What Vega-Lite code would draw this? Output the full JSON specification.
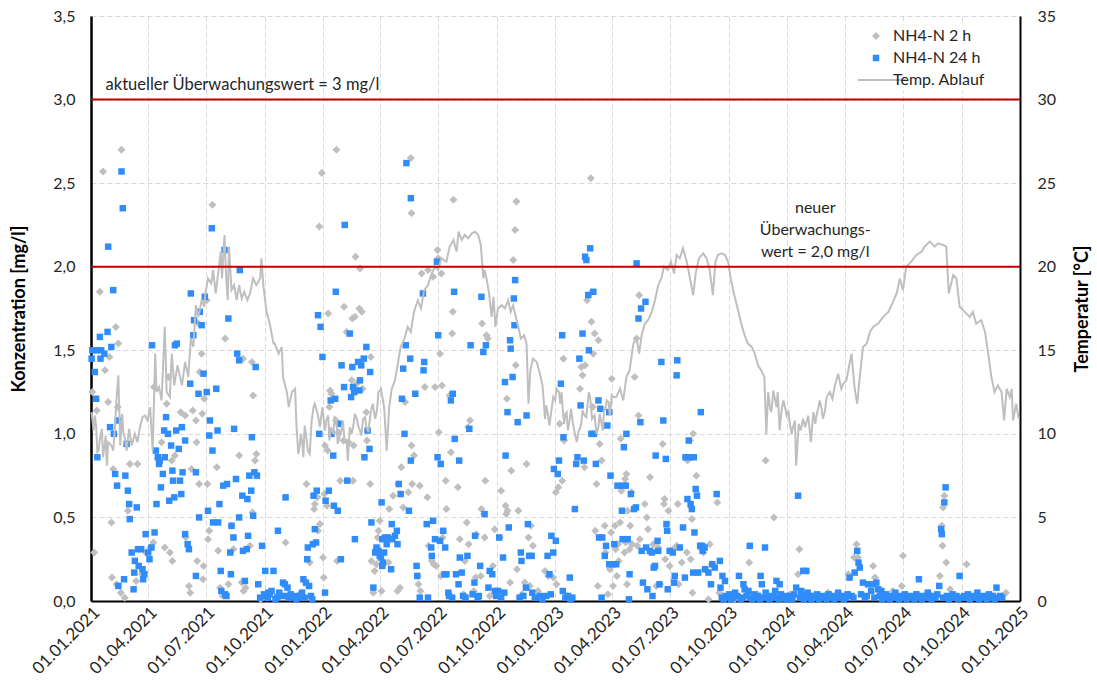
{
"$schema": "https://vega.github.io/schema/vega-lite/v6.json",
"width": 929, "height": 585,
"autosize": {"type": "none"},
"padding": {"left": 91, "top": 16, "right": 77, "bottom": 88},
"background": "white",
"config": {"font": "Lato", "view": {"stroke": null}},
"datasets": {
"g": [
{"d":"2021-01-03","v":1.25},{"d":"2021-01-06","v":0.29},{"d":"2021-01-10","v":1.14},{"d":"2021-01-15","v":1.85},{"d":"2021-01-20","v":2.57},{"d":"2021-01-23","v":1.38},{"d":"2021-01-28","v":1.19},{"d":"2021-01-30","v":1.46},{"d":"2021-02-02","v":0.47},{"d":"2021-02-03","v":0.14},{"d":"2021-02-05","v":0.79},{"d":"2021-02-09","v":1.64},{"d":"2021-02-10","v":0.10},{"d":"2021-02-12","v":1.16},{"d":"2021-02-13","v":1.54},{"d":"2021-02-17","v":0.05},{"d":"2021-02-18","v":2.70},{"d":"2021-02-23","v":0.02},{"d":"2021-02-28","v":0.54},{"d":"2021-03-03","v":0.82},{"d":"2021-03-13","v":0.12},{"d":"2021-03-15","v":0.82},{"d":"2021-03-22","v":0.16},{"d":"2021-03-28","v":0.29},{"d":"2021-04-04","v":0.32},{"d":"2021-04-09","v":0.35},{"d":"2021-04-10","v":1.28},{"d":"2021-04-22","v":0.95},{"d":"2021-04-27","v":0.32},{"d":"2021-04-30","v":1.18},{"d":"2021-05-03","v":1.34},{"d":"2021-05-05","v":0.29},{"d":"2021-05-08","v":0.84},{"d":"2021-05-09","v":0.24},{"d":"2021-05-13","v":0.87},{"d":"2021-05-22","v":1.13},{"d":"2021-05-29","v":1.11},{"d":"2021-05-30","v":0.38},{"d":"2021-06-04","v":0.09},{"d":"2021-06-06","v":0.05},{"d":"2021-06-08","v":0.79},{"d":"2021-06-10","v":1.14},{"d":"2021-06-15","v":1.08},{"d":"2021-06-16","v":0.95},{"d":"2021-06-17","v":0.24},{"d":"2021-06-20","v":0.70},{"d":"2021-06-19","v":1.66},{"d":"2021-06-21","v":1.37},{"d":"2021-06-24","v":1.48},{"d":"2021-06-25","v":1.12},{"d":"2021-06-26","v":0.13},{"d":"2021-06-27","v":0.21},{"d":"2021-06-28","v":1.21},{"d":"2021-07-02","v":1.80},{"d":"2021-07-03","v":0.70},{"d":"2021-07-04","v":0.37},{"d":"2021-07-06","v":0.42},{"d":"2021-07-11","v":2.37},{"d":"2021-07-18","v":0.80},{"d":"2021-07-20","v":0.30},{"d":"2021-07-23","v":0.08},{"d":"2021-07-27","v":0.03},{"d":"2021-07-31","v":1.57},{"d":"2021-08-05","v":0.10},{"d":"2021-08-10","v":0.45},{"d":"2021-08-13","v":0.31},{"d":"2021-08-22","v":0.87},{"d":"2021-08-26","v":0.11},{"d":"2021-08-28","v":1.45},{"d":"2021-08-29","v":0.06},{"d":"2021-09-01","v":0.08},{"d":"2021-09-08","v":0.33},{"d":"2021-09-11","v":1.43},{"d":"2021-09-12","v":0.53},{"d":"2021-09-13","v":1.23},{"d":"2021-09-16","v":0.84},{"d":"2021-09-18","v":0.88},{"d":"2021-09-25","v":0.01},{"d":"2021-10-05","v":0.02},{"d":"2021-10-20","v":0.03},{"d":"2021-11-03","v":0.35},{"d":"2021-11-10","v":0.02},{"d":"2021-11-25","v":0.04},{"d":"2021-12-06","v":0.70},{"d":"2021-12-09","v":0.09},{"d":"2021-12-11","v":0.23},{"d":"2021-12-17","v":0.34},{"d":"2021-12-18","v":0.55},{"d":"2021-12-19","v":0.58},{"d":"2021-12-20","v":0.35},{"d":"2021-12-23","v":0.62},{"d":"2021-12-24","v":0.42},{"d":"2021-12-26","v":2.24},{"d":"2021-12-27","v":0.46},{"d":"2021-12-30","v":2.56},
{"d":"2022-01-01","v":0.26},{"d":"2022-01-02","v":0.14},{"d":"2022-01-03","v":0.64},{"d":"2022-01-04","v":0.93},{"d":"2022-01-07","v":0.57},{"d":"2022-01-08","v":0.90},{"d":"2022-01-09","v":1.72},{"d":"2022-01-11","v":1.16},{"d":"2022-01-12","v":1.26},{"d":"2022-01-14","v":1.24},{"d":"2022-01-21","v":1.08},{"d":"2022-01-22","v":2.70},{"d":"2022-01-23","v":0.24},{"d":"2022-01-25","v":1.01},{"d":"2022-01-28","v":0.72},{"d":"2022-02-02","v":0.96},{"d":"2022-02-03","v":1.76},{"d":"2022-02-07","v":1.61},{"d":"2022-02-10","v":0.95},{"d":"2022-02-15","v":1.32},{"d":"2022-02-16","v":1.69},{"d":"2022-02-17","v":0.72},{"d":"2022-02-18","v":0.93},{"d":"2022-02-20","v":1.70},{"d":"2022-02-21","v":2.06},{"d":"2022-02-23","v":1.30},{"d":"2022-02-27","v":1.75},{"d":"2022-02-28","v":1.99},{"d":"2022-03-03","v":1.73},{"d":"2022-03-04","v":1.27},{"d":"2022-03-10","v":1.13},{"d":"2022-03-11","v":0.96},{"d":"2022-03-16","v":0.70},{"d":"2022-03-17","v":1.46},{"d":"2022-03-18","v":0.24},{"d":"2022-03-21","v":0.05},{"d":"2022-03-23","v":0.18},{"d":"2022-03-25","v":0.31},{"d":"2022-03-26","v":0.22},{"d":"2022-03-28","v":0.38},{"d":"2022-03-29","v":0.42},{"d":"2022-03-31","v":0.48},{"d":"2022-04-03","v":0.06},{"d":"2022-04-06","v":0.22},{"d":"2022-04-14","v":0.23},{"d":"2022-04-15","v":0.55},{"d":"2022-04-21","v":0.63},{"d":"2022-04-28","v":0.06},{"d":"2022-04-29","v":0.70},{"d":"2022-05-02","v":0.08},{"d":"2022-05-04","v":0.80},{"d":"2022-05-07","v":0.56},{"d":"2022-05-10","v":1.19},{"d":"2022-05-15","v":0.65},{"d":"2022-05-19","v":2.65},{"d":"2022-05-20","v":2.32},{"d":"2022-05-20","v":0.93},{"d":"2022-05-21","v":0.70},{"d":"2022-05-24","v":0.87},{"d":"2022-05-30","v":0.15},{"d":"2022-05-31","v":0.10},{"d":"2022-06-02","v":0.69},{"d":"2022-06-03","v":0.06},{"d":"2022-06-05","v":1.96},{"d":"2022-06-10","v":1.28},{"d":"2022-06-14","v":0.62},{"d":"2022-06-15","v":1.98},{"d":"2022-06-16","v":0.33},{"d":"2022-06-21","v":0.24},{"d":"2022-06-23","v":1.94},{"d":"2022-06-24","v":0.22},{"d":"2022-06-26","v":1.28},{"d":"2022-06-28","v":0.21},{"d":"2022-06-30","v":2.10},{"d":"2022-07-01","v":2.05},{"d":"2022-07-02","v":1.01},{"d":"2022-07-04","v":1.48},{"d":"2022-07-05","v":0.15},{"d":"2022-07-06","v":1.96},{"d":"2022-07-07","v":1.29},{"d":"2022-07-08","v":0.38},{"d":"2022-07-13","v":0.72},{"d":"2022-07-14","v":0.55},{"d":"2022-07-19","v":1.23},{"d":"2022-07-21","v":0.89},{"d":"2022-07-23","v":1.60},{"d":"2022-07-24","v":1.73},{"d":"2022-07-25","v":2.40},{"d":"2022-08-01","v":0.68},{"d":"2022-08-04","v":0.37},{"d":"2022-08-10","v":0.04},{"d":"2022-08-12","v":0.24},{"d":"2022-08-15","v":0.47},{"d":"2022-08-17","v":1.04},{"d":"2022-08-18","v":0.34},{"d":"2022-08-20","v":1.08},{"d":"2022-08-26","v":0.06},{"d":"2022-08-29","v":0.14},{"d":"2022-08-30","v":0.40},{"d":"2022-09-06","v":0.15},{"d":"2022-09-07","v":0.55},{"d":"2022-09-08","v":1.66},{"d":"2022-09-11","v":0.52},{"d":"2022-09-12","v":0.38},{"d":"2022-09-13","v":0.72},{"d":"2022-09-15","v":1.59},{"d":"2022-09-17","v":1.57},{"d":"2022-09-20","v":0.03},{"d":"2022-09-22","v":0.17},{"d":"2022-09-25","v":0.21},{"d":"2022-09-28","v":0.43},{"d":"2022-10-06","v":0.38},{"d":"2022-10-08","v":0.66},{"d":"2022-10-10","v":0.05},{"d":"2022-10-15","v":0.57},{"d":"2022-10-16","v":0.52},{"d":"2022-10-17","v":1.21},{"d":"2022-10-18","v":0.54},{"d":"2022-10-22","v":0.11},{"d":"2022-10-24","v":0.78},{"d":"2022-10-27","v":2.04},{"d":"2022-10-30","v":2.22},{"d":"2022-10-31","v":1.41},{"d":"2022-11-01","v":2.39},{"d":"2022-11-02","v":0.19},{"d":"2022-11-04","v":0.54},{"d":"2022-11-10","v":0.04},{"d":"2022-11-14","v":0.11},{"d":"2022-11-17","v":0.82},{"d":"2022-11-20","v":0.38},{"d":"2022-11-22","v":0.09},{"d":"2022-11-24","v":0.45},{"d":"2022-11-27","v":0.33},{"d":"2022-12-05","v":0.06},{"d":"2022-12-16","v":0.18},{"d":"2022-12-21","v":0.15},{"d":"2022-12-29","v":0.14},
{"d":"2023-01-02","v":0.65},{"d":"2023-01-03","v":0.10},{"d":"2023-01-06","v":0.68},{"d":"2023-01-08","v":1.06},{"d":"2023-01-12","v":0.72},{"d":"2023-01-14","v":1.45},{"d":"2023-01-15","v":0.96},{"d":"2023-01-20","v":0.03},{"d":"2023-02-09","v":1.27},{"d":"2023-02-11","v":1.40},{"d":"2023-02-13","v":1.35},{"d":"2023-02-16","v":0.80},{"d":"2023-02-17","v":1.41},{"d":"2023-02-20","v":1.80},{"d":"2023-02-25","v":1.84},{"d":"2023-02-26","v":2.53},{"d":"2023-02-27","v":1.67},{"d":"2023-03-01","v":1.16},{"d":"2023-03-02","v":1.48},{"d":"2023-03-04","v":1.60},{"d":"2023-03-05","v":0.42},{"d":"2023-03-07","v":0.70},{"d":"2023-03-09","v":0.09},{"d":"2023-03-10","v":1.56},{"d":"2023-03-12","v":0.94},{"d":"2023-03-15","v":0.84},{"d":"2023-03-20","v":0.45},{"d":"2023-03-21","v":0.29},{"d":"2023-03-25","v":0.04},{"d":"2023-03-28","v":0.19},{"d":"2023-03-30","v":0.41},{"d":"2023-03-31","v":1.33},{"d":"2023-04-02","v":0.09},{"d":"2023-04-05","v":0.45},{"d":"2023-04-06","v":0.31},{"d":"2023-04-08","v":0.15},{"d":"2023-04-10","v":0.34},{"d":"2023-04-11","v":0.24},{"d":"2023-04-13","v":0.47},{"d":"2023-04-14","v":0.97},{"d":"2023-04-15","v":0.66},{"d":"2023-04-20","v":0.29},{"d":"2023-04-21","v":0.73},{"d":"2023-04-22","v":0.35},{"d":"2023-04-23","v":0.76},{"d":"2023-04-24","v":0.10},{"d":"2023-04-25","v":0.54},{"d":"2023-04-28","v":0.31},{"d":"2023-04-29","v":0.45},{"d":"2023-05-01","v":0.65},{"d":"2023-05-02","v":0.34},{"d":"2023-05-06","v":1.34},{"d":"2023-05-09","v":1.57},{"d":"2023-05-10","v":0.33},{"d":"2023-05-12","v":1.11},{"d":"2023-05-13","v":1.83},{"d":"2023-05-14","v":0.37},{"d":"2023-05-22","v":0.58},{"d":"2023-05-25","v":0.50},{"d":"2023-05-27","v":0.43},{"d":"2023-05-30","v":0.74},{"d":"2023-06-04","v":0.34},{"d":"2023-06-09","v":0.09},{"d":"2023-06-12","v":0.32},{"d":"2023-06-15","v":0.10},{"d":"2023-06-19","v":0.94},{"d":"2023-06-21","v":0.58},{"d":"2023-06-22","v":0.61},{"d":"2023-06-23","v":0.25},{"d":"2023-06-28","v":0.54},{"d":"2023-06-30","v":0.21},{"d":"2023-07-06","v":0.31},{"d":"2023-07-11","v":0.33},{"d":"2023-07-13","v":0.58},{"d":"2023-07-14","v":0.10},{"d":"2023-07-19","v":0.23},{"d":"2023-07-26","v":0.86},{"d":"2023-07-27","v":0.29},{"d":"2023-07-28","v":0.84},{"d":"2023-08-01","v":0.96},{"d":"2023-08-02","v":0.25},{"d":"2023-08-03","v":0.56},{"d":"2023-08-04","v":0.49},{"d":"2023-08-05","v":0.05},{"d":"2023-08-06","v":1.00},{"d":"2023-08-11","v":0.75},{"d":"2023-08-19","v":0.31},{"d":"2023-08-22","v":0.29},{"d":"2023-08-24","v":0.19},{"d":"2023-08-30","v":0.01},{"d":"2023-09-01","v":0.34},{"d":"2023-09-04","v":0.22},{"d":"2023-09-13","v":0.59},{"d":"2023-09-16","v":0.05},{"d":"2023-10-10","v":0.01},{"d":"2023-10-20","v":0.02},{"d":"2023-11-02","v":0.23},{"d":"2023-11-15","v":0.04},{"d":"2023-11-28","v":0.84},{"d":"2023-12-01","v":0.03},{"d":"2023-12-11","v":0.50},{"d":"2023-12-25","v":0.02},
{"d":"2024-01-05","v":0.04},{"d":"2024-01-18","v":0.16},{"d":"2024-01-20","v":0.31},{"d":"2024-02-10","v":0.03},{"d":"2024-03-05","v":0.05},{"d":"2024-04-06","v":0.16},{"d":"2024-04-15","v":0.26},{"d":"2024-04-19","v":0.34},{"d":"2024-04-21","v":0.26},{"d":"2024-05-15","v":0.21},{"d":"2024-05-18","v":0.14},{"d":"2024-05-25","v":0.04},{"d":"2024-06-15","v":0.06},{"d":"2024-06-29","v":0.09},{"d":"2024-07-01","v":0.27},{"d":"2024-08-10","v":0.05},{"d":"2024-08-28","v":0.15},{"d":"2024-08-31","v":0.45},{"d":"2024-09-01","v":0.33},{"d":"2024-09-02","v":0.56},{"d":"2024-09-04","v":0.63},{"d":"2024-09-07","v":0.23},{"d":"2024-09-13","v":0.07},{"d":"2024-10-09","v":0.22},{"d":"2024-10-25","v":0.04},{"d":"2024-11-20","v":0.03},{"d":"2024-12-10","v":0.05}
],
"b": [
{"d":"2021-01-02","v":1.45},{"d":"2021-01-03","v":1.50},{"d":"2021-01-07","v":1.37},{"d":"2021-01-09","v":1.21},{"d":"2021-01-10","v":1.50},{"d":"2021-01-11","v":0.86},{"d":"2021-01-15","v":1.58},{"d":"2021-01-16","v":1.45},{"d":"2021-01-17","v":1.50},{"d":"2021-01-22","v":1.48},{"d":"2021-01-27","v":1.61},{"d":"2021-01-28","v":2.12},{"d":"2021-01-31","v":1.04},{"d":"2021-02-02","v":1.52},{"d":"2021-02-05","v":1.86},{"d":"2021-02-06","v":1.00},{"d":"2021-02-08","v":0.76},{"d":"2021-02-11","v":0.69},{"d":"2021-02-12","v":1.08},{"d":"2021-02-13","v":0.09},{"d":"2021-02-18","v":2.57},{"d":"2021-02-20","v":2.35},{"d":"2021-02-22","v":0.13},{"d":"2021-02-24","v":0.75},{"d":"2021-02-26","v":0.94},{"d":"2021-02-28","v":0.66},{"d":"2021-03-02","v":0.58},{"d":"2021-03-03","v":0.49},{"d":"2021-03-06","v":0.29},{"d":"2021-03-09","v":0.07},{"d":"2021-03-10","v":0.17},{"d":"2021-03-11","v":0.24},{"d":"2021-03-14","v":0.56},{"d":"2021-03-16","v":0.31},{"d":"2021-03-17","v":0.21},{"d":"2021-03-21","v":0.31},{"d":"2021-03-23","v":0.19},{"d":"2021-03-24","v":0.13},{"d":"2021-03-26","v":0.16},{"d":"2021-03-28","v":0.40},{"d":"2021-04-01","v":0.29},{"d":"2021-04-03","v":0.25},{"d":"2021-04-06","v":0.32},{"d":"2021-04-07","v":1.53},{"d":"2021-04-11","v":0.41},{"d":"2021-04-13","v":0.90},{"d":"2021-04-14","v":0.58},{"d":"2021-04-16","v":0.86},{"d":"2021-04-18","v":0.82},{"d":"2021-04-19","v":0.84},{"d":"2021-04-21","v":0.68},{"d":"2021-04-24","v":0.76},{"d":"2021-04-26","v":1.02},{"d":"2021-04-27","v":0.86},{"d":"2021-04-29","v":1.10},{"d":"2021-05-02","v":1.00},{"d":"2021-05-04","v":0.60},{"d":"2021-05-07","v":0.93},{"d":"2021-05-09","v":0.78},{"d":"2021-05-10","v":0.72},{"d":"2021-05-12","v":0.62},{"d":"2021-05-13","v":1.53},{"d":"2021-05-15","v":1.02},{"d":"2021-05-16","v":1.54},{"d":"2021-05-19","v":0.91},{"d":"2021-05-21","v":0.72},{"d":"2021-05-23","v":0.64},{"d":"2021-05-24","v":1.04},{"d":"2021-05-25","v":0.77},{"d":"2021-05-29","v":0.96},{"d":"2021-05-29","v":0.40},{"d":"2021-06-02","v":0.34},{"d":"2021-06-04","v":0.31},{"d":"2021-06-06","v":1.30},{"d":"2021-06-07","v":1.84},{"d":"2021-06-11","v":1.59},{"d":"2021-06-12","v":1.68},{"d":"2021-06-15","v":0.77},{"d":"2021-06-15","v":0.15},{"d":"2021-06-19","v":1.24},{"d":"2021-06-20","v":0.50},{"d":"2021-06-21","v":1.73},{"d":"2021-06-24","v":1.65},{"d":"2021-06-27","v":1.36},{"d":"2021-06-29","v":1.82},{"d":"2021-07-02","v":1.25},{"d":"2021-07-04","v":0.54},{"d":"2021-07-06","v":0.99},{"d":"2021-07-07","v":1.08},{"d":"2021-07-10","v":2.23},{"d":"2021-07-11","v":0.90},{"d":"2021-07-12","v":0.47},{"d":"2021-07-17","v":1.27},{"d":"2021-07-19","v":1.02},{"d":"2021-07-20","v":0.47},{"d":"2021-07-22","v":0.58},{"d":"2021-07-24","v":0.18},{"d":"2021-07-25","v":0.06},{"d":"2021-07-28","v":0.69},{"d":"2021-07-30","v":2.10},{"d":"2021-07-31","v":0.04},{"d":"2021-08-02","v":0.03},{"d":"2021-08-03","v":0.70},{"d":"2021-08-05","v":1.69},{"d":"2021-08-08","v":0.29},{"d":"2021-08-09","v":0.16},{"d":"2021-08-10","v":0.45},{"d":"2021-08-13","v":0.38},{"d":"2021-08-14","v":1.03},{"d":"2021-08-17","v":0.73},{"d":"2021-08-19","v":1.48},{"d":"2021-08-22","v":1.44},{"d":"2021-08-22","v":0.50},{"d":"2021-08-23","v":1.98},{"d":"2021-08-27","v":0.63},{"d":"2021-08-28","v":0.30},{"d":"2021-08-31","v":0.12},{"d":"2021-09-03","v":0.31},{"d":"2021-09-04","v":0.61},{"d":"2021-09-05","v":0.39},{"d":"2021-09-07","v":0.75},{"d":"2021-09-10","v":0.66},{"d":"2021-09-11","v":0.98},{"d":"2021-09-13","v":0.51},{"d":"2021-09-15","v":0.77},{"d":"2021-09-17","v":1.40},{"d":"2021-09-19","v":0.75},{"d":"2021-09-21","v":0.10},{"d":"2021-09-24","v":0.02},{"d":"2021-09-27","v":0.33},{"d":"2021-09-30","v":0.04},{"d":"2021-10-02","v":0.18},{"d":"2021-10-03","v":0.03},{"d":"2021-10-06","v":0.02},{"d":"2021-10-07","v":0.05},{"d":"2021-10-09","v":0.04},{"d":"2021-10-12","v":0.06},{"d":"2021-10-15","v":0.18},{"d":"2021-10-18","v":0.01},{"d":"2021-10-21","v":0.02},{"d":"2021-10-22","v":0.42},{"d":"2021-10-24","v":0.05},{"d":"2021-10-27","v":0.03},{"d":"2021-10-30","v":0.11},{"d":"2021-11-02","v":0.10},{"d":"2021-11-03","v":0.62},{"d":"2021-11-05","v":0.03},{"d":"2021-11-06","v":0.08},{"d":"2021-11-08","v":0.02},{"d":"2021-11-11","v":0.04},{"d":"2021-11-14","v":0.02},{"d":"2021-11-17","v":0.03},{"d":"2021-11-20","v":0.01},{"d":"2021-11-23","v":0.02},{"d":"2021-11-26","v":0.03},{"d":"2021-11-29","v":0.05},{"d":"2021-12-01","v":0.13},{"d":"2021-12-03","v":0.02},{"d":"2021-12-05","v":0.11},{"d":"2021-12-07","v":0.25},{"d":"2021-12-08","v":0.32},{"d":"2021-12-10","v":0.09},{"d":"2021-12-13","v":0.03},{"d":"2021-12-15","v":0.01},{"d":"2021-12-16","v":0.34},{"d":"2021-12-17","v":0.63},{"d":"2021-12-19","v":0.43},{"d":"2021-12-21","v":0.35},{"d":"2021-12-22","v":0.66},{"d":"2021-12-24","v":1.71},{"d":"2021-12-26","v":1.00},{"d":"2021-12-28","v":1.64},{"d":"2021-12-31","v":1.46},
{"d":"2022-01-04","v":0.05},{"d":"2022-01-05","v":0.60},{"d":"2022-01-10","v":0.66},{"d":"2022-01-13","v":1.20},{"d":"2022-01-14","v":1.00},{"d":"2022-01-17","v":0.87},{"d":"2022-01-18","v":0.57},{"d":"2022-01-20","v":1.21},{"d":"2022-01-21","v":1.85},{"d":"2022-01-24","v":0.54},{"d":"2022-01-26","v":1.06},{"d":"2022-01-29","v":0.25},{"d":"2022-01-30","v":1.41},{"d":"2022-02-03","v":1.28},{"d":"2022-02-04","v":2.25},{"d":"2022-02-08","v":0.72},{"d":"2022-02-12","v":1.60},{"d":"2022-02-14","v":1.22},{"d":"2022-02-16","v":1.40},{"d":"2022-02-17","v":1.28},{"d":"2022-02-19","v":1.25},{"d":"2022-02-20","v":0.37},{"d":"2022-02-25","v":1.43},{"d":"2022-02-27","v":1.26},{"d":"2022-02-28","v":1.32},{"d":"2022-03-02","v":1.41},{"d":"2022-03-06","v":1.45},{"d":"2022-03-07","v":0.86},{"d":"2022-03-10","v":1.52},{"d":"2022-03-12","v":1.02},{"d":"2022-03-15","v":0.91},{"d":"2022-03-16","v":1.37},{"d":"2022-03-18","v":0.47},{"d":"2022-03-21","v":0.08},{"d":"2022-03-24","v":0.29},{"d":"2022-03-26","v":0.32},{"d":"2022-03-29","v":0.30},{"d":"2022-03-31","v":0.27},{"d":"2022-04-02","v":0.26},{"d":"2022-04-03","v":0.59},{"d":"2022-04-04","v":0.37},{"d":"2022-04-04","v":0.21},{"d":"2022-04-05","v":0.23},{"d":"2022-04-07","v":0.29},{"d":"2022-04-08","v":0.38},{"d":"2022-04-11","v":0.34},{"d":"2022-04-13","v":0.38},{"d":"2022-04-18","v":0.19},{"d":"2022-04-19","v":0.46},{"d":"2022-04-20","v":0.37},{"d":"2022-04-24","v":0.39},{"d":"2022-04-27","v":0.42},{"d":"2022-04-28","v":0.34},{"d":"2022-04-30","v":0.70},{"d":"2022-05-03","v":0.64},{"d":"2022-05-05","v":1.21},{"d":"2022-05-07","v":1.39},{"d":"2022-05-09","v":1.00},{"d":"2022-05-11","v":1.53},{"d":"2022-05-12","v":2.62},{"d":"2022-05-16","v":0.54},{"d":"2022-05-18","v":1.45},{"d":"2022-05-19","v":2.41},{"d":"2022-05-19","v":0.84},{"d":"2022-05-26","v":1.24},{"d":"2022-05-28","v":0.21},{"d":"2022-05-29","v":0.15},{"d":"2022-06-02","v":0.02},{"d":"2022-06-07","v":1.84},{"d":"2022-06-08","v":1.38},{"d":"2022-06-09","v":1.43},{"d":"2022-06-13","v":0.46},{"d":"2022-06-15","v":0.02},{"d":"2022-06-20","v":0.32},{"d":"2022-06-21","v":0.27},{"d":"2022-06-23","v":0.48},{"d":"2022-06-26","v":0.37},{"d":"2022-06-29","v":2.03},{"d":"2022-06-30","v":0.86},{"d":"2022-07-01","v":1.59},{"d":"2022-07-04","v":0.36},{"d":"2022-07-05","v":0.82},{"d":"2022-07-09","v":0.42},{"d":"2022-07-11","v":0.16},{"d":"2022-07-12","v":0.32},{"d":"2022-07-14","v":0.16},{"d":"2022-07-17","v":0.05},{"d":"2022-07-18","v":0.03},{"d":"2022-07-21","v":1.20},{"d":"2022-07-23","v":0.02},{"d":"2022-07-24","v":1.24},{"d":"2022-07-26","v":1.85},{"d":"2022-07-27","v":0.97},{"d":"2022-07-29","v":0.16},{"d":"2022-08-02","v":0.10},{"d":"2022-08-03","v":0.84},{"d":"2022-08-04","v":0.26},{"d":"2022-08-07","v":0.17},{"d":"2022-08-09","v":0.03},{"d":"2022-08-13","v":0.02},{"d":"2022-08-16","v":0.27},{"d":"2022-08-19","v":1.03},{"d":"2022-08-21","v":1.53},{"d":"2022-08-24","v":0.04},{"d":"2022-08-27","v":0.11},{"d":"2022-08-28","v":0.39},{"d":"2022-09-01","v":0.02},{"d":"2022-09-03","v":0.03},{"d":"2022-09-05","v":0.21},{"d":"2022-09-07","v":1.82},{"d":"2022-09-10","v":1.49},{"d":"2022-09-12","v":0.52},{"d":"2022-09-14","v":1.53},{"d":"2022-09-18","v":0.08},{"d":"2022-09-20","v":0.18},{"d":"2022-09-24","v":0.16},{"d":"2022-09-28","v":0.06},{"d":"2022-09-30","v":0.03},{"d":"2022-10-03","v":0.06},{"d":"2022-10-05","v":0.38},{"d":"2022-10-08","v":0.02},{"d":"2022-10-11","v":0.26},{"d":"2022-10-13","v":0.05},{"d":"2022-10-14","v":1.31},{"d":"2022-10-15","v":0.87},{"d":"2022-10-18","v":1.13},{"d":"2022-10-20","v":0.44},{"d":"2022-10-22","v":1.56},{"d":"2022-10-23","v":1.51},{"d":"2022-10-26","v":1.34},{"d":"2022-10-28","v":1.81},{"d":"2022-10-29","v":1.65},{"d":"2022-10-30","v":1.92},{"d":"2022-11-03","v":1.07},{"d":"2022-11-06","v":0.02},{"d":"2022-11-08","v":0.29},{"d":"2022-11-09","v":0.24},{"d":"2022-11-12","v":0.03},{"d":"2022-11-16","v":0.08},{"d":"2022-11-17","v":1.11},{"d":"2022-11-19","v":0.46},{"d":"2022-11-21","v":0.27},{"d":"2022-11-25","v":0.27},{"d":"2022-11-26","v":0.05},{"d":"2022-11-30","v":0.02},{"d":"2022-12-02","v":0.02},{"d":"2022-12-08","v":0.03},{"d":"2022-12-12","v":0.01},{"d":"2022-12-18","v":0.03},{"d":"2022-12-20","v":0.27},{"d":"2022-12-23","v":0.16},{"d":"2022-12-25","v":0.04},{"d":"2022-12-26","v":0.39},{"d":"2022-12-29","v":0.29},{"d":"2022-12-30","v":0.79},
{"d":"2023-01-02","v":0.36},{"d":"2023-01-05","v":0.76},{"d":"2023-01-07","v":0.84},{"d":"2023-01-10","v":1.30},{"d":"2023-01-12","v":1.59},{"d":"2023-01-13","v":0.06},{"d":"2023-01-14","v":0.98},{"d":"2023-01-17","v":0.02},{"d":"2023-01-21","v":0.03},{"d":"2023-01-24","v":0.14},{"d":"2023-01-25","v":0.01},{"d":"2023-01-28","v":0.02},{"d":"2023-02-01","v":0.55},{"d":"2023-02-03","v":0.82},{"d":"2023-02-05","v":0.86},{"d":"2023-02-08","v":1.45},{"d":"2023-02-10","v":1.17},{"d":"2023-02-13","v":1.60},{"d":"2023-02-15","v":0.84},{"d":"2023-02-17","v":2.06},{"d":"2023-02-19","v":2.04},{"d":"2023-02-22","v":1.83},{"d":"2023-02-23","v":1.50},{"d":"2023-02-25","v":2.11},{"d":"2023-02-27","v":1.00},{"d":"2023-03-02","v":1.85},{"d":"2023-03-03","v":1.00},{"d":"2023-03-06","v":0.82},{"d":"2023-03-10","v":1.20},{"d":"2023-03-11","v":0.38},{"d":"2023-03-13","v":1.15},{"d":"2023-03-15","v":0.02},{"d":"2023-03-16","v":0.38},{"d":"2023-03-20","v":0.27},{"d":"2023-03-22","v":0.33},{"d":"2023-03-24","v":1.05},{"d":"2023-03-27","v":1.13},{"d":"2023-03-27","v":0.22},{"d":"2023-03-29","v":0.75},{"d":"2023-04-02","v":0.22},{"d":"2023-04-04","v":0.34},{"d":"2023-04-07","v":0.22},{"d":"2023-04-09","v":0.69},{"d":"2023-04-16","v":0.54},{"d":"2023-04-17","v":0.37},{"d":"2023-04-18","v":0.69},{"d":"2023-04-19","v":0.92},{"d":"2023-04-22","v":0.69},{"d":"2023-04-23","v":1.00},{"d":"2023-04-25","v":0.37},{"d":"2023-04-27","v":0.01},{"d":"2023-04-28","v":0.16},{"d":"2023-04-30","v":0.64},{"d":"2023-05-05","v":0.55},{"d":"2023-05-08","v":0.56},{"d":"2023-05-09","v":2.02},{"d":"2023-05-12","v":1.69},{"d":"2023-05-15","v":1.07},{"d":"2023-05-16","v":1.75},{"d":"2023-05-17","v":0.30},{"d":"2023-05-19","v":0.11},{"d":"2023-05-23","v":1.79},{"d":"2023-05-24","v":0.32},{"d":"2023-05-26","v":0.07},{"d":"2023-05-30","v":0.30},{"d":"2023-06-02","v":0.29},{"d":"2023-06-03","v":0.03},{"d":"2023-06-05","v":0.20},{"d":"2023-06-07","v":0.21},{"d":"2023-06-08","v":0.87},{"d":"2023-06-11","v":0.36},{"d":"2023-06-12","v":0.30},{"d":"2023-06-14","v":0.10},{"d":"2023-06-17","v":1.43},{"d":"2023-06-20","v":1.08},{"d":"2023-06-24","v":0.85},{"d":"2023-06-25","v":0.46},{"d":"2023-06-26","v":0.42},{"d":"2023-06-27","v":0.07},{"d":"2023-06-30","v":0.30},{"d":"2023-07-05","v":0.29},{"d":"2023-07-07","v":0.11},{"d":"2023-07-08","v":0.15},{"d":"2023-07-11","v":1.35},{"d":"2023-07-12","v":1.44},{"d":"2023-07-16","v":0.32},{"d":"2023-07-21","v":0.44},{"d":"2023-07-24","v":0.14},{"d":"2023-07-25","v":0.86},{"d":"2023-07-28","v":0.61},{"d":"2023-07-30","v":0.96},{"d":"2023-07-31","v":0.86},{"d":"2023-08-02","v":0.58},{"d":"2023-08-04","v":0.55},{"d":"2023-08-06","v":0.17},{"d":"2023-08-07","v":0.86},{"d":"2023-08-08","v":0.41},{"d":"2023-08-10","v":0.67},{"d":"2023-08-12","v":0.63},{"d":"2023-08-14","v":0.17},{"d":"2023-08-17","v":0.33},{"d":"2023-08-18","v":1.13},{"d":"2023-08-20","v":0.33},{"d":"2023-08-21","v":0.30},{"d":"2023-08-24","v":0.32},{"d":"2023-08-25","v":0.19},{"d":"2023-08-30","v":0.17},{"d":"2023-09-03","v":0.10},{"d":"2023-09-05","v":0.22},{"d":"2023-09-09","v":0.20},{"d":"2023-09-12","v":0.64},{"d":"2023-09-17","v":0.24},{"d":"2023-09-18","v":0.08},{"d":"2023-09-21","v":0.15},{"d":"2023-09-25","v":0.12},{"d":"2023-10-17","v":0.15},{"d":"2023-10-24","v":0.10},{"d":"2023-10-26","v":0.07},{"d":"2023-11-03","v":0.33},{"d":"2023-11-20","v":0.15},{"d":"2023-11-22","v":0.10},{"d":"2023-11-27","v":0.32},{"d":"2023-12-15","v":0.12},{"d":"2023-12-20","v":0.10},
{"d":"2024-01-15","v":0.08},{"d":"2024-01-18","v":0.63},{"d":"2024-01-23","v":0.06},{"d":"2024-01-26","v":0.18},{"d":"2024-01-31","v":0.18},{"d":"2024-04-08","v":0.14},{"d":"2024-04-16","v":0.17},{"d":"2024-04-20","v":0.30},{"d":"2024-04-22","v":0.23},{"d":"2024-04-24","v":0.20},{"d":"2024-04-29","v":0.11},{"d":"2024-05-07","v":0.10},{"d":"2024-05-12","v":0.06},{"d":"2024-05-14","v":0.10},{"d":"2024-05-20","v":0.11},{"d":"2024-05-23","v":0.07},{"d":"2024-05-28","v":0.06},{"d":"2024-07-26","v":0.13},{"d":"2024-08-27","v":0.09},{"d":"2024-08-30","v":0.43},{"d":"2024-08-31","v":0.40},{"d":"2024-09-04","v":0.59},{"d":"2024-09-06","v":0.68},{"d":"2024-09-28","v":0.15},{"d":"2024-11-25","v":0.08},
{"d":"2023-09-20","v":0.02},{"d":"2023-09-23","v":0.01},{"d":"2023-09-26","v":0.03},{"d":"2023-09-29","v":0.02},{"d":"2023-10-02","v":0.04},{"d":"2023-10-05","v":0.01},{"d":"2023-10-08","v":0.02},{"d":"2023-10-11","v":0.05},{"d":"2023-10-14","v":0.03},{"d":"2023-10-20","v":0.01},{"d":"2023-10-23","v":0.02},{"d":"2023-10-29","v":0.03},{"d":"2023-11-01","v":0.06},{"d":"2023-11-04","v":0.02},{"d":"2023-11-07","v":0.01},{"d":"2023-11-10","v":0.04},{"d":"2023-11-13","v":0.02},{"d":"2023-11-16","v":0.03},{"d":"2023-11-19","v":0.01},{"d":"2023-11-25","v":0.02},{"d":"2023-11-28","v":0.05},{"d":"2023-12-01","v":0.03},{"d":"2023-12-04","v":0.01},{"d":"2023-12-07","v":0.02},{"d":"2023-12-10","v":0.03},{"d":"2023-12-13","v":0.06},{"d":"2023-12-16","v":0.02},{"d":"2023-12-19","v":0.01},{"d":"2023-12-22","v":0.04},{"d":"2023-12-25","v":0.02},{"d":"2023-12-28","v":0.03},{"d":"2023-12-31","v":0.01},
{"d":"2024-01-03","v":0.02},{"d":"2024-01-06","v":0.03},{"d":"2024-01-09","v":0.01},{"d":"2024-01-12","v":0.04},{"d":"2024-01-21","v":0.02},{"d":"2024-01-24","v":0.03},{"d":"2024-01-27","v":0.01},{"d":"2024-01-30","v":0.02},{"d":"2024-02-02","v":0.05},{"d":"2024-02-05","v":0.02},{"d":"2024-02-08","v":0.01},{"d":"2024-02-11","v":0.03},{"d":"2024-02-14","v":0.02},{"d":"2024-02-17","v":0.04},{"d":"2024-02-20","v":0.01},{"d":"2024-02-23","v":0.02},{"d":"2024-02-26","v":0.03},{"d":"2024-02-29","v":0.02},{"d":"2024-03-03","v":0.01},{"d":"2024-03-06","v":0.04},{"d":"2024-03-09","v":0.02},{"d":"2024-03-12","v":0.03},{"d":"2024-03-15","v":0.01},{"d":"2024-03-18","v":0.02},{"d":"2024-03-21","v":0.05},{"d":"2024-03-24","v":0.02},{"d":"2024-03-27","v":0.03},{"d":"2024-03-30","v":0.01},{"d":"2024-04-02","v":0.02},{"d":"2024-04-05","v":0.04},{"d":"2024-04-11","v":0.03},{"d":"2024-04-14","v":0.02},{"d":"2024-04-26","v":0.04},{"d":"2024-05-02","v":0.02},{"d":"2024-05-05","v":0.03},{"d":"2024-05-17","v":0.02},{"d":"2024-05-26","v":0.03},{"d":"2024-05-29","v":0.01},{"d":"2024-06-01","v":0.02},{"d":"2024-06-04","v":0.04},{"d":"2024-06-07","v":0.02},{"d":"2024-06-10","v":0.01},{"d":"2024-06-13","v":0.03},{"d":"2024-06-16","v":0.02},{"d":"2024-06-19","v":0.05},{"d":"2024-06-22","v":0.02},{"d":"2024-06-25","v":0.01},{"d":"2024-06-28","v":0.03},{"d":"2024-07-01","v":0.02},{"d":"2024-07-04","v":0.04},{"d":"2024-07-07","v":0.01},{"d":"2024-07-10","v":0.02},{"d":"2024-07-13","v":0.03},{"d":"2024-07-16","v":0.02},{"d":"2024-07-19","v":0.01},{"d":"2024-07-22","v":0.04},{"d":"2024-07-25","v":0.02},{"d":"2024-07-28","v":0.03},{"d":"2024-07-31","v":0.01},{"d":"2024-08-03","v":0.02},{"d":"2024-08-06","v":0.03},{"d":"2024-08-09","v":0.05},{"d":"2024-08-12","v":0.02},{"d":"2024-08-15","v":0.01},{"d":"2024-08-18","v":0.03},{"d":"2024-08-21","v":0.02},{"d":"2024-08-24","v":0.04},{"d":"2024-09-02","v":0.02},{"d":"2024-09-08","v":0.03},{"d":"2024-09-11","v":0.01},{"d":"2024-09-14","v":0.02},{"d":"2024-09-17","v":0.04},{"d":"2024-09-20","v":0.02},{"d":"2024-09-23","v":0.03},{"d":"2024-09-26","v":0.01},{"d":"2024-10-02","v":0.02},{"d":"2024-10-05","v":0.03},{"d":"2024-10-08","v":0.02},{"d":"2024-10-11","v":0.04},{"d":"2024-10-14","v":0.01},{"d":"2024-10-17","v":0.02},{"d":"2024-10-20","v":0.03},{"d":"2024-10-23","v":0.02},{"d":"2024-10-26","v":0.05},{"d":"2024-10-29","v":0.01},{"d":"2024-11-01","v":0.02},{"d":"2024-11-04","v":0.03},{"d":"2024-11-07","v":0.02},{"d":"2024-11-10","v":0.01},{"d":"2024-11-13","v":0.04},{"d":"2024-11-16","v":0.02},{"d":"2024-11-19","v":0.03},{"d":"2024-11-22","v":0.01},{"d":"2024-11-28","v":0.02},{"d":"2024-12-01","v":0.03},{"d":"2024-12-04","v":0.02}
],
"t": [
{"d":"2021-01-02","v":11.3},{"d":"2021-01-05","v":10.2},{"d":"2021-01-07","v":11.1},{"d":"2021-01-09","v":10.5},{"d":"2021-01-11","v":8.9},{"d":"2021-01-13","v":9.0},{"d":"2021-01-15","v":9.7},{"d":"2021-01-18","v":10.3},{"d":"2021-01-20","v":8.6},{"d":"2021-01-23","v":9.5},{"d":"2021-01-24","v":9.9},{"d":"2021-01-26","v":8.1},{"d":"2021-01-28","v":9.5},{"d":"2021-02-02","v":9.3},{"d":"2021-02-05","v":9.0},{"d":"2021-02-08","v":10.6},{"d":"2021-02-10","v":12.0},{"d":"2021-02-13","v":13.5},{"d":"2021-02-16","v":9.3},{"d":"2021-02-19","v":11.2},{"d":"2021-02-21","v":10.0},{"d":"2021-02-23","v":9.8},{"d":"2021-02-26","v":9.0},{"d":"2021-03-02","v":10.3},{"d":"2021-03-06","v":9.3},{"d":"2021-03-11","v":10.0},{"d":"2021-03-15","v":9.5},{"d":"2021-03-19","v":10.4},{"d":"2021-03-23","v":11.0},{"d":"2021-03-27","v":11.1},{"d":"2021-03-31","v":10.8},{"d":"2021-04-04","v":11.6},{"d":"2021-04-08","v":9.0},{"d":"2021-04-12","v":14.8},{"d":"2021-04-14","v":12.5},{"d":"2021-04-18","v":12.8},{"d":"2021-04-22","v":12.0},{"d":"2021-04-27","v":16.4},{"d":"2021-04-30","v":12.5},{"d":"2021-05-05","v":12.2},{"d":"2021-05-08","v":14.8},{"d":"2021-05-12","v":12.9},{"d":"2021-05-17","v":14.1},{"d":"2021-05-24","v":12.9},{"d":"2021-05-29","v":14.3},{"d":"2021-06-03","v":13.4},{"d":"2021-06-07","v":15.7},{"d":"2021-06-11","v":15.2},{"d":"2021-06-15","v":17.7},{"d":"2021-06-19","v":17.0},{"d":"2021-06-24","v":18.0},{"d":"2021-06-28","v":17.6},{"d":"2021-06-30","v":18.4},{"d":"2021-07-04","v":19.3},{"d":"2021-07-09","v":19.0},{"d":"2021-07-12","v":19.8},{"d":"2021-07-16","v":18.4},{"d":"2021-07-20","v":19.6},{"d":"2021-07-24","v":20.9},{"d":"2021-07-26","v":19.3},{"d":"2021-07-30","v":21.9},{"d":"2021-08-01","v":19.8},{"d":"2021-08-04","v":18.0},{"d":"2021-08-06","v":21.2},{"d":"2021-08-10","v":18.6},{"d":"2021-08-14","v":18.9},{"d":"2021-08-18","v":18.0},{"d":"2021-08-22","v":18.9},{"d":"2021-08-26","v":18.1},{"d":"2021-08-30","v":18.5},{"d":"2021-09-04","v":18.0},{"d":"2021-09-08","v":18.4},{"d":"2021-09-13","v":19.3},{"d":"2021-09-18","v":18.9},{"d":"2021-09-24","v":19.3},{"d":"2021-09-26","v":20.5},{"d":"2021-09-29","v":18.9},{"d":"2021-10-04","v":17.3},{"d":"2021-10-09","v":16.6},{"d":"2021-10-15","v":15.4},{"d":"2021-10-17","v":15.4},{"d":"2021-10-23","v":14.8},{"d":"2021-10-28","v":15.2},{"d":"2021-10-30","v":13.4},{"d":"2021-11-05","v":12.5},{"d":"2021-11-08","v":11.6},{"d":"2021-11-13","v":12.5},{"d":"2021-11-18","v":12.7},{"d":"2021-11-20","v":10.6},{"d":"2021-11-23","v":8.8},{"d":"2021-11-25","v":9.2},{"d":"2021-11-27","v":10.0},{"d":"2021-11-29","v":9.6},{"d":"2021-12-01","v":8.6},{"d":"2021-12-03","v":10.5},{"d":"2021-12-06","v":9.7},{"d":"2021-12-08","v":9.0},{"d":"2021-12-11","v":8.8},{"d":"2021-12-14","v":10.8},{"d":"2021-12-17","v":11.6},{"d":"2021-12-19","v":11.8},{"d":"2021-12-24","v":11.1},{"d":"2021-12-27","v":10.4},{"d":"2021-12-31","v":11.6},
{"d":"2022-01-04","v":10.2},{"d":"2022-01-06","v":10.8},{"d":"2022-01-09","v":11.1},{"d":"2022-01-11","v":9.6},{"d":"2022-01-13","v":10.4},{"d":"2022-01-17","v":10.0},{"d":"2022-01-19","v":11.0},{"d":"2022-01-22","v":10.9},{"d":"2022-01-24","v":9.4},{"d":"2022-01-26","v":9.7},{"d":"2022-01-30","v":10.2},{"d":"2022-02-01","v":10.8},{"d":"2022-02-04","v":9.5},{"d":"2022-02-07","v":9.6},{"d":"2022-02-09","v":8.4},{"d":"2022-02-12","v":10.4},{"d":"2022-02-15","v":10.0},{"d":"2022-02-18","v":10.6},{"d":"2022-02-20","v":11.2},{"d":"2022-02-23","v":10.9},{"d":"2022-02-25","v":10.5},{"d":"2022-02-28","v":10.2},{"d":"2022-03-02","v":9.9},{"d":"2022-03-05","v":10.9},{"d":"2022-03-08","v":11.0},{"d":"2022-03-10","v":10.4},{"d":"2022-03-13","v":10.1},{"d":"2022-03-17","v":11.3},{"d":"2022-03-20","v":11.8},{"d":"2022-03-24","v":10.9},{"d":"2022-03-27","v":11.5},{"d":"2022-03-29","v":12.5},{"d":"2022-04-02","v":12.7},{"d":"2022-04-07","v":11.6},{"d":"2022-04-11","v":9.0},{"d":"2022-04-15","v":11.6},{"d":"2022-04-19","v":12.7},{"d":"2022-04-24","v":13.2},{"d":"2022-04-29","v":14.3},{"d":"2022-05-03","v":15.2},{"d":"2022-05-09","v":15.7},{"d":"2022-05-14","v":16.4},{"d":"2022-05-19","v":16.1},{"d":"2022-05-24","v":17.3},{"d":"2022-05-30","v":18.0},{"d":"2022-06-04","v":17.5},{"d":"2022-06-09","v":18.6},{"d":"2022-06-15","v":18.9},{"d":"2022-06-21","v":19.6},{"d":"2022-06-26","v":20.0},{"d":"2022-07-01","v":19.8},{"d":"2022-07-06","v":20.5},{"d":"2022-07-14","v":20.3},{"d":"2022-07-19","v":21.2},{"d":"2022-07-25","v":21.6},{"d":"2022-07-30","v":20.9},{"d":"2022-08-02","v":22.1},{"d":"2022-08-07","v":21.6},{"d":"2022-08-12","v":21.9},{"d":"2022-08-17","v":21.7},{"d":"2022-08-23","v":22.0},{"d":"2022-08-28","v":22.1},{"d":"2022-09-02","v":21.9},{"d":"2022-09-06","v":21.3},{"d":"2022-09-10","v":19.3},{"d":"2022-09-12","v":19.8},{"d":"2022-09-15","v":19.3},{"d":"2022-09-19","v":18.4},{"d":"2022-09-23","v":17.0},{"d":"2022-09-26","v":18.2},{"d":"2022-09-29","v":16.4},{"d":"2022-10-03","v":17.5},{"d":"2022-10-09","v":17.7},{"d":"2022-10-14","v":17.5},{"d":"2022-10-19","v":18.0},{"d":"2022-10-23","v":17.3},{"d":"2022-10-27","v":17.7},{"d":"2022-10-31","v":17.0},{"d":"2022-11-04","v":16.4},{"d":"2022-11-08","v":15.7},{"d":"2022-11-13","v":15.9},{"d":"2022-11-17","v":15.4},{"d":"2022-11-20","v":11.8},{"d":"2022-11-23","v":13.8},{"d":"2022-11-27","v":14.5},{"d":"2022-12-03","v":14.3},{"d":"2022-12-08","v":13.6},{"d":"2022-12-12","v":12.9},{"d":"2022-12-14","v":12.0},{"d":"2022-12-16","v":10.9},{"d":"2022-12-18","v":11.7},{"d":"2022-12-20","v":11.3},{"d":"2022-12-23","v":10.5},{"d":"2022-12-25","v":11.1},{"d":"2022-12-29","v":12.2},
{"d":"2023-01-01","v":12.0},{"d":"2023-01-03","v":12.7},{"d":"2023-01-07","v":12.5},{"d":"2023-01-09","v":11.8},{"d":"2023-01-11","v":12.5},{"d":"2023-01-13","v":11.4},{"d":"2023-01-15","v":10.6},{"d":"2023-01-17","v":11.2},{"d":"2023-01-19","v":11.3},{"d":"2023-01-21","v":10.2},{"d":"2023-01-24","v":10.9},{"d":"2023-01-26","v":11.5},{"d":"2023-01-29","v":10.6},{"d":"2023-02-01","v":10.0},{"d":"2023-02-04","v":9.5},{"d":"2023-02-07","v":10.2},{"d":"2023-02-09","v":10.3},{"d":"2023-02-11","v":10.6},{"d":"2023-02-13","v":11.4},{"d":"2023-02-16","v":11.1},{"d":"2023-02-19","v":11.0},{"d":"2023-02-21","v":11.8},{"d":"2023-02-23","v":12.5},{"d":"2023-02-25","v":12.2},{"d":"2023-02-28","v":10.9},{"d":"2023-03-04","v":11.1},{"d":"2023-03-07","v":10.0},{"d":"2023-03-10","v":10.4},{"d":"2023-03-12","v":11.2},{"d":"2023-03-15","v":10.6},{"d":"2023-03-17","v":10.2},{"d":"2023-03-19","v":11.6},{"d":"2023-03-21","v":11.4},{"d":"2023-03-23","v":12.0},{"d":"2023-03-26","v":11.9},{"d":"2023-03-28","v":11.1},{"d":"2023-03-31","v":12.3},{"d":"2023-04-02","v":12.2},{"d":"2023-04-07","v":12.2},{"d":"2023-04-13","v":12.7},{"d":"2023-04-18","v":12.0},{"d":"2023-04-23","v":13.4},{"d":"2023-04-28","v":13.8},{"d":"2023-05-04","v":15.4},{"d":"2023-05-09","v":15.7},{"d":"2023-05-13","v":14.8},{"d":"2023-05-17","v":15.9},{"d":"2023-05-22","v":16.6},{"d":"2023-05-27","v":16.8},{"d":"2023-06-02","v":17.3},{"d":"2023-06-07","v":18.0},{"d":"2023-06-12","v":18.9},{"d":"2023-06-17","v":19.3},{"d":"2023-06-21","v":20.0},{"d":"2023-06-27","v":19.8},{"d":"2023-07-02","v":20.3},{"d":"2023-07-07","v":19.6},{"d":"2023-07-11","v":20.7},{"d":"2023-07-16","v":20.5},{"d":"2023-07-21","v":21.1},{"d":"2023-07-27","v":20.3},{"d":"2023-08-01","v":19.3},{"d":"2023-08-06","v":18.3},{"d":"2023-08-10","v":19.6},{"d":"2023-08-15","v":20.5},{"d":"2023-08-22","v":20.8},{"d":"2023-08-27","v":20.5},{"d":"2023-09-01","v":19.8},{"d":"2023-09-06","v":18.3},{"d":"2023-09-10","v":20.3},{"d":"2023-09-14","v":20.7},{"d":"2023-09-20","v":20.8},{"d":"2023-09-25","v":20.7},{"d":"2023-09-30","v":20.3},{"d":"2023-10-04","v":19.3},{"d":"2023-10-09","v":18.4},{"d":"2023-10-15","v":17.5},{"d":"2023-10-18","v":17.0},{"d":"2023-10-22","v":16.4},{"d":"2023-10-26","v":15.9},{"d":"2023-10-31","v":15.4},{"d":"2023-11-06","v":15.2},{"d":"2023-11-11","v":14.8},{"d":"2023-11-16","v":14.1},{"d":"2023-11-21","v":13.8},{"d":"2023-11-26","v":13.4},{"d":"2023-11-29","v":10.0},{"d":"2023-12-02","v":12.5},{"d":"2023-12-05","v":11.5},{"d":"2023-12-07","v":11.3},{"d":"2023-12-10","v":12.6},{"d":"2023-12-12","v":12.2},{"d":"2023-12-15","v":11.6},{"d":"2023-12-17","v":12.5},{"d":"2023-12-20","v":10.2},{"d":"2023-12-23","v":11.4},{"d":"2023-12-26","v":12.0},{"d":"2023-12-29","v":11.5},{"d":"2023-12-31","v":11.1},
{"d":"2024-01-03","v":11.3},{"d":"2024-01-05","v":10.6},{"d":"2024-01-08","v":10.0},{"d":"2024-01-10","v":10.4},{"d":"2024-01-13","v":10.8},{"d":"2024-01-15","v":8.1},{"d":"2024-01-17","v":9.3},{"d":"2024-01-19","v":10.6},{"d":"2024-01-22","v":10.2},{"d":"2024-01-26","v":10.9},{"d":"2024-01-29","v":10.4},{"d":"2024-02-01","v":10.8},{"d":"2024-02-03","v":11.1},{"d":"2024-02-05","v":10.3},{"d":"2024-02-07","v":9.5},{"d":"2024-02-11","v":11.3},{"d":"2024-02-14","v":10.6},{"d":"2024-02-16","v":11.1},{"d":"2024-02-19","v":11.6},{"d":"2024-02-21","v":12.0},{"d":"2024-02-24","v":11.5},{"d":"2024-02-26","v":10.9},{"d":"2024-02-29","v":11.3},{"d":"2024-03-03","v":12.2},{"d":"2024-03-08","v":12.5},{"d":"2024-03-12","v":12.1},{"d":"2024-03-16","v":12.9},{"d":"2024-03-21","v":13.6},{"d":"2024-03-26","v":12.7},{"d":"2024-03-29","v":13.0},{"d":"2024-04-03","v":13.2},{"d":"2024-04-11","v":14.8},{"d":"2024-04-16","v":12.7},{"d":"2024-04-20","v":11.8},{"d":"2024-04-24","v":13.4},{"d":"2024-04-29","v":15.2},{"d":"2024-05-05","v":15.4},{"d":"2024-05-10","v":16.1},{"d":"2024-05-15","v":16.4},{"d":"2024-05-23","v":16.6},{"d":"2024-05-31","v":17.0},{"d":"2024-06-08","v":17.3},{"d":"2024-06-13","v":17.7},{"d":"2024-06-21","v":18.4},{"d":"2024-06-26","v":19.3},{"d":"2024-07-01","v":18.6},{"d":"2024-07-06","v":20.0},{"d":"2024-07-14","v":20.3},{"d":"2024-07-22","v":20.7},{"d":"2024-07-30","v":20.9},{"d":"2024-08-04","v":21.2},{"d":"2024-08-12","v":21.5},{"d":"2024-08-20","v":21.2},{"d":"2024-08-25","v":21.4},{"d":"2024-09-02","v":21.3},{"d":"2024-09-07","v":21.2},{"d":"2024-09-11","v":18.4},{"d":"2024-09-18","v":19.5},{"d":"2024-09-23","v":19.3},{"d":"2024-09-28","v":17.6},{"d":"2024-10-06","v":17.3},{"d":"2024-10-14","v":17.0},{"d":"2024-10-19","v":17.3},{"d":"2024-10-24","v":16.6},{"d":"2024-11-01","v":16.8},{"d":"2024-11-07","v":16.1},{"d":"2024-11-12","v":14.8},{"d":"2024-11-17","v":13.4},{"d":"2024-11-22","v":12.5},{"d":"2024-11-27","v":12.9},{"d":"2024-12-03","v":12.5},{"d":"2024-12-07","v":10.8},{"d":"2024-12-11","v":12.7},{"d":"2024-12-16","v":12.2},{"d":"2024-12-19","v":12.7},{"d":"2024-12-21","v":10.8},{"d":"2024-12-26","v":11.8},{"d":"2024-12-30","v":10.9}
]
},
"layer": [
{
"layer": [
{"data": {"name": "g"},
 "mark": {"type": "point", "filled": true, "opacity": 1, "size": 64},
 "encoding": {
  "x": {"field": "d", "type": "temporal",
   "scale": {"type": "utc", "domain": [{"year": 2021, "month": 1, "date": 1, "utc": true}, {"year": 2025, "month": 1, "date": 1, "utc": true}]},
   "axis": {"title": null, "format": "%d.%m.%Y", "formatType": "utc", "labelExpr": "utcFormat(datum.value, '%d.%m.%Y')", "labelAngle": -45, "labelFontSize": 17, "labelColor": "#262626", "labelPadding": 3, "ticks": false, "domainColor": "#000000", "domainWidth": 2, "grid": true, "gridColor": "#D9D9D9", "gridDash": [5, 3], "gridWidth": 1, "labelOverlap": false,
    "values": [{"year":2021,"month":1,"date":1,"utc":true},{"year":2021,"month":4,"date":1,"utc":true},{"year":2021,"month":7,"date":1,"utc":true},{"year":2021,"month":10,"date":1,"utc":true},{"year":2022,"month":1,"date":1,"utc":true},{"year":2022,"month":4,"date":1,"utc":true},{"year":2022,"month":7,"date":1,"utc":true},{"year":2022,"month":10,"date":1,"utc":true},{"year":2023,"month":1,"date":1,"utc":true},{"year":2023,"month":4,"date":1,"utc":true},{"year":2023,"month":7,"date":1,"utc":true},{"year":2023,"month":10,"date":1,"utc":true},{"year":2024,"month":1,"date":1,"utc":true},{"year":2024,"month":4,"date":1,"utc":true},{"year":2024,"month":7,"date":1,"utc":true},{"year":2024,"month":10,"date":1,"utc":true},{"year":2025,"month":1,"date":1,"utc":true}]}},
  "y": {"field": "v", "type": "quantitative",
   "scale": {"domain": [0, 3.5], "nice": false, "zero": true},
   "axis": {"title": "Konzentration [mg/l]", "titleFontSize": 18, "titleFontWeight": "bold", "titleColor": "#000000", "titlePadding": 24, "values": [0, 0.5, 1, 1.5, 2, 2.5, 3, 3.5], "labelExpr": "replace(format(datum.value, '.1f'), '.', ',')", "labelFontSize": 16, "labelColor": "#262626", "labelPadding": 16, "ticks": false, "domainColor": "#000000", "domainWidth": 2.5, "grid": true, "gridColor": "#D9D9D9", "gridDash": [5, 3], "gridWidth": 1}},
  "color": {"datum": "NH4-N 2 h", "type": "nominal",
   "scale": {"domain": ["NH4-N 2 h", "NH4-N 24 h", "Temp. Ablauf"], "range": ["#BFBFBF", "#2F8CF8", "#BFBFBF"]},
   "legend": {"title": null, "orient": "none", "legendX": 765, "legendY": 9, "fillColor": "white", "padding": 2, "symbolSize": 1225, "clipHeight": 18, "rowPadding": 4, "symbolOffset": 10, "labelOffset": 9, "labelFontSize": 16, "labelColor": "#262626", "symbolOpacity": 1,
    "encode": {"symbols": {"update": {"size": {"signal": "datum.value === 'Temp. Ablauf' ? 3600 : (datum.value === 'NH4-N 2 h' ? 64 : 42)"}, "stroke": {"scale": "color", "field": "value"}, "strokeWidth": {"signal": "datum.value === 'Temp. Ablauf' ? 2 : 0"}}}}}},
  "shape": {"datum": "NH4-N 2 h", "type": "nominal",
   "scale": {"domain": ["NH4-N 2 h", "NH4-N 24 h", "Temp. Ablauf"], "range": ["diamond", "square", "stroke"]},
   "legend": {"title": null, "orient": "none", "legendX": 765, "legendY": 9, "fillColor": "white", "padding": 2, "symbolSize": 1225, "clipHeight": 18, "rowPadding": 4, "symbolOffset": 10, "labelOffset": 9, "labelFontSize": 16, "labelColor": "#262626", "symbolOpacity": 1,
    "encode": {"symbols": {"update": {"size": {"signal": "datum.value === 'Temp. Ablauf' ? 3600 : (datum.value === 'NH4-N 2 h' ? 64 : 42)"}, "stroke": {"scale": "color", "field": "value"}, "strokeWidth": {"signal": "datum.value === 'Temp. Ablauf' ? 2 : 0"}}}}}}
 }},
{"data": {"name": "b"},
 "mark": {"type": "point", "filled": true, "opacity": 1, "size": 42},
 "encoding": {
  "x": {"field": "d", "type": "temporal", "axis": {"title": null, "format": "%d.%m.%Y", "formatType": "utc", "labelExpr": "utcFormat(datum.value, '%d.%m.%Y')"}},
  "y": {"field": "v", "type": "quantitative"},
  "color": {"datum": "NH4-N 24 h", "type": "nominal"},
  "shape": {"datum": "NH4-N 24 h", "type": "nominal"}
 }}
]
},
{"data": {"name": "t"},
 "mark": {"type": "line", "strokeWidth": 2},
 "encoding": {
  "x": {"field": "d", "type": "temporal", "axis": {"title": null, "format": "%d.%m.%Y", "formatType": "utc", "labelExpr": "utcFormat(datum.value, '%d.%m.%Y')"}},
  "y": {"field": "v", "type": "quantitative",
   "scale": {"domain": [0, 35], "nice": false},
   "axis": {"orient": "right", "title": "Temperatur [°C]", "titleAngle": -90, "titleBaseline": "top", "titleFontSize": 18, "titleFontWeight": "bold", "titleColor": "#000000", "titlePadding": 18, "values": [0, 5, 10, 15, 20, 25, 30, 35], "labelFontSize": 16, "labelColor": "#262626", "labelPadding": 17, "ticks": false, "domainColor": "#000000", "domainWidth": 2, "grid": false}},
  "color": {"datum": "Temp. Ablauf", "type": "nominal"}
 }},
{
"data": {"values": [{}]},
"layer": [
 {"mark": {"type": "rule", "color": "#C00000", "strokeWidth": 2},
  "encoding": {"y": {"datum": 3, "type": "quantitative", "scale": {"domain": [0, 3.5], "nice": false}, "axis": null}}},
 {"mark": {"type": "rule", "color": "#C00000", "strokeWidth": 2},
  "encoding": {"y": {"datum": 2, "type": "quantitative"}}},
 {"mark": {"type": "text", "align": "left", "baseline": "middle", "fontSize": 16.5, "color": "#262626", "text": "aktueller Überwachungswert = 3 mg/l"},
  "encoding": {"x": {"datum": {"year": 2021, "month": 1, "date": 24, "utc": true}, "type": "temporal", "axis": {"title": null, "format": "%d.%m.%Y", "formatType": "utc", "labelExpr": "utcFormat(datum.value, '%d.%m.%Y')"}}, "y": {"datum": 3.09, "type": "quantitative"}}},
 {"mark": {"type": "text", "align": "center", "baseline": "middle", "fontSize": 16, "lineHeight": 22, "color": "#262626", "text": ["neuer", "Überwachungs-", "wert = 2,0 mg/l"]},
  "encoding": {"x": {"datum": {"year": 2024, "month": 2, "date": 14, "utc": true}, "type": "temporal", "axis": {"title": null, "format": "%d.%m.%Y", "formatType": "utc", "labelExpr": "utcFormat(datum.value, '%d.%m.%Y')"}}, "y": {"datum": 2.35, "type": "quantitative"}}}
]
}
],
"resolve": {"scale": {"y": "independent"}}
}
